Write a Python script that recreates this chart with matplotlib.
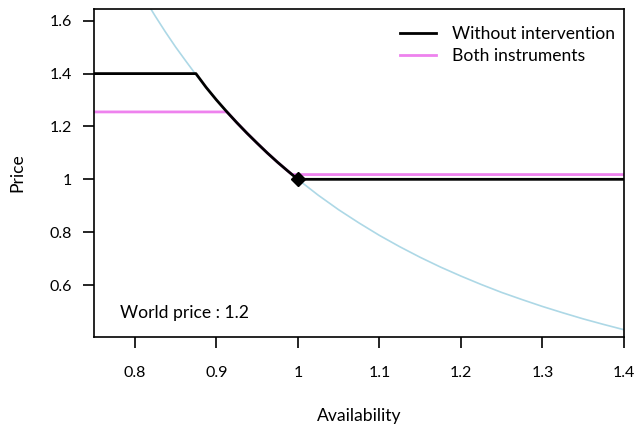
import matplotlib
matplotlib.use("Agg")
import matplotlib.pyplot as plt

# demand curve (availability -> price)
curve_x = [0.775, 0.7875, 0.80, 0.8125, 0.825, 0.8375, 0.85, 0.8625, 0.875,
           0.8875, 0.90, 0.9125, 0.925, 0.9375, 0.95, 0.9625, 0.975, 0.9875,
           1.0, 1.025, 1.05, 1.075, 1.10, 1.125, 1.15, 1.175, 1.20, 1.225,
           1.25, 1.275, 1.30, 1.325, 1.35, 1.375, 1.40]
curve_y = [1.891, 1.817, 1.747, 1.681, 1.618, 1.558, 1.501, 1.448, 1.396,
           1.348, 1.301, 1.257, 1.215, 1.175, 1.137, 1.100, 1.065, 1.032,
           1.0, 0.940, 0.885, 0.835, 0.788, 0.745, 0.705, 0.668, 0.634, 0.602,
           0.572, 0.545, 0.519, 0.495, 0.472, 0.451, 0.431]

# without intervention
none_x = [0.75, 0.875, 0.8875, 0.90, 0.9125, 0.925, 0.9375, 0.95, 0.9625,
          0.975, 0.9875, 1.0, 1.4]
none_y = [1.40, 1.40, 1.348, 1.301, 1.257, 1.215, 1.175, 1.137, 1.100,
          1.065, 1.032, 1.0, 1.0]

# both instruments
both_x = [0.75, 0.913, 0.925, 0.9375, 0.95, 0.9625, 0.975, 0.9875, 0.993, 1.4]
both_y = [1.255, 1.255, 1.215, 1.175, 1.137, 1.100, 1.065, 1.032, 1.018, 1.018]

eq_x = [1.0]
eq_y = [1.0]

xticks = [0.8, 0.9, 1.0, 1.1, 1.2, 1.3, 1.4]
xticklabels = ["0.8", "0.9", "1", "1.1", "1.2", "1.3", "1.4"]
yticks = [0.6, 0.8, 1.0, 1.2, 1.4, 1.6]
yticklabels = ["0.6", "0.8", "1", "1.2", "1.4", "1.6"]

plt.rcParams['font.family'] = ['Lato', 'DejaVu Sans']

fig = plt.figure(figsize=(6.4, 4.26), dpi=100)
ax = fig.add_axes([0.1469, 0.2096, 0.828, 0.769])

ax.plot(curve_x, curve_y, color='#ADD8E6', lw=1.2)
ax.plot(both_x, both_y, color='violet', lw=2, label='Both instruments')
ax.plot(none_x, none_y, color='black', lw=2, label='Without intervention')
ax.plot(eq_x, eq_y, marker='D', color='black', ms=7.5, ls='none')

ax.set_xlim(0.75, 1.4)
ax.set_ylim(0.4045, 1.644)
ax.set_xticks(xticks)
ax.set_xticklabels(xticklabels)
ax.set_yticks(yticks)
ax.set_yticklabels(yticklabels)
ax.tick_params(direction='out', length=8, width=1.2, labelsize=11.5)
ax.tick_params(axis='x', pad=13)
ax.tick_params(axis='y', pad=8)
for s in ax.spines.values():
    s.set_linewidth(1.2)

ax.set_xlabel('Availability', fontsize=12.6, labelpad=20.5)
ax.set_ylabel('Price', fontsize=12.6, labelpad=17.5)

ax.text(0.782, 0.494, 'World price : 1.2', fontsize=12.6, va='center', ha='left')

h, l = ax.get_legend_handles_labels()
ax.legend(h[::-1], l[::-1], loc='upper right', bbox_to_anchor=(0.983, 0.949),
          frameon=False, fontsize=12.6, borderpad=0, borderaxespad=0,
          handlelength=2.06, handletextpad=0.92, labelspacing=0.36)

fig.savefig('out.png', dpi=100)
